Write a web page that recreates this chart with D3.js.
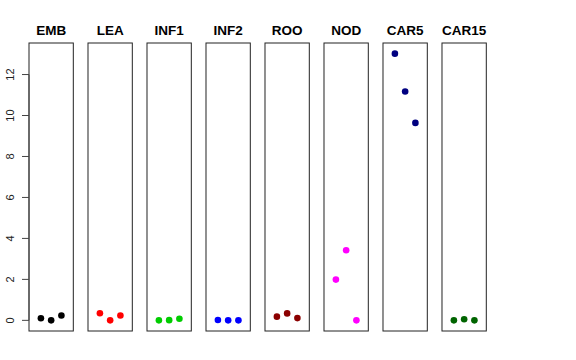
<!DOCTYPE html>
<html><head><meta charset="utf-8">
<script src="https://cdn.jsdelivr.net/npm/d3@7"></script>
<style>body{margin:0;background:#fff}svg{display:block}</style>
</head><body>
<svg id="c" width="576" height="360"></svg>
<script>
const categories = ["EMB","LEA","INF1","INF2","ROO","NOD","CAR5","CAR15"];
const colors = ["#000000","#ff0000","#00cd00","#0000ff","#8b0000","#ff00ff","#000080","#006400"];
const EMB = [0.10, 0.00, 0.24];
const LEA = [0.35, 0.00, 0.24];
const INF1 = [0.00, 0.01, 0.08];
const INF2 = [0.02, 0.00, 0.00];
const ROO = [0.18, 0.34, 0.11];
const NOD = [1.99, 3.42, 0.00];
const CAR5 = [13.02, 11.17, 9.64];
const CAR15 = [0.00, 0.05, 0.00];
const series = [EMB, LEA, INF1, INF2, ROO, NOD, CAR5, CAR15];
const yTicks = [0,2,4,6,8,10,12];

const svg = d3.select("#c");
const band = d3.scaleBand().domain(categories).range([29, 486.3]).paddingInner(0.249);
const y = d3.scaleLinear().domain([-0.52, 13.54]).range([331, 43]);

categories.forEach((cat, i) => {
  const x0 = band(cat), w = band.bandwidth();
  const x = d3.scaleLinear().domain([-0.16, 4.16]).range([x0, x0 + w]);
  const g = svg.append("g");
  g.selectAll("circle").data(series[i]).join("circle")
    .attr("cx", (d, j) => x(j + 1)).attr("cy", d => y(d)).attr("r", 3.3)
    .attr("fill", colors[i]);
  g.append("rect").attr("x", x0).attr("y", y(13.54)).attr("width", w)
    .attr("height", y(-0.52) - y(13.54)).attr("fill", "none")
    .attr("stroke", "#222").attr("stroke-width", 1);
  g.append("text").attr("x", x0 + w / 2).attr("y", 35).attr("text-anchor", "middle")
    .attr("font-family", "Liberation Sans, Arial, sans-serif").attr("font-weight", "bold")
    .attr("font-size", 13.5).text(cat);
});

const ax = svg.append("g").attr("transform", "translate(29,0)");
ax.append("line").attr("x1", 0).attr("x2", 0).attr("y1", y(0)).attr("y2", y(12)).attr("stroke", "#444");
ax.selectAll("line.t").data(yTicks).join("line").attr("class", "t")
  .attr("x1", 0).attr("x2", -7).attr("y1", d => y(d)).attr("y2", d => y(d)).attr("stroke", "#444");
ax.selectAll("text").data(yTicks).join("text")
  .attr("transform", d => `translate(-15,${y(d)}) rotate(-90)`)
  .attr("text-anchor", "middle").attr("font-family", "Liberation Sans, Arial, sans-serif")
  .attr("font-size", 11).attr("fill", "#222").text(d => d);
</script>
</body></html>
